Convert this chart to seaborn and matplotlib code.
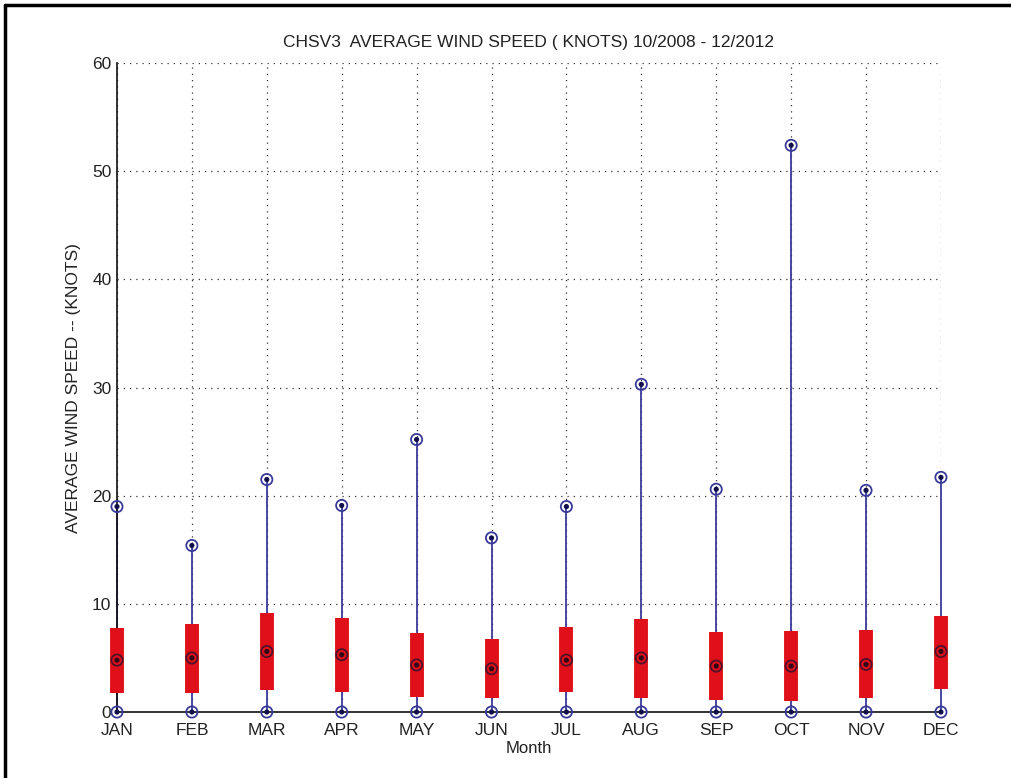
import numpy as np
import pandas as pd
import matplotlib
matplotlib.use('Agg')
import matplotlib.pyplot as plt
from matplotlib.lines import Line2D
import seaborn as sns

# Monthly wind speed summary (knots)
months = ['JAN', 'FEB', 'MAR', 'APR', 'MAY', 'JUN', 'JUL', 'AUG', 'SEP', 'OCT', 'NOV', 'DEC']
wind_min = [0, 0, 0, 0, 0, 0, 0, 0, 0, 0, 0, 0]
wind_q1 = [1.75, 1.8, 2.0, 1.85, 1.4, 1.3, 1.85, 1.3, 1.1, 1.0, 1.3, 2.1]
wind_median = [4.8, 5.0, 5.6, 5.3, 4.35, 4.0, 4.8, 5.0, 4.25, 4.25, 4.4, 5.6]
wind_q3 = [7.8, 8.1, 9.2, 8.7, 7.3, 6.75, 7.85, 8.6, 7.4, 7.5, 7.6, 8.9]
wind_max = [19.0, 15.4, 21.5, 19.1, 25.2, 16.1, 19.0, 30.3, 20.6, 52.4, 20.5, 21.7]

sns.set_style('white')
plt.rcParams['font.family'] = ['Liberation Sans', 'DejaVu Sans']

df = pd.DataFrame({'month': months, 'pos': np.arange(1, 13),
                   'lo': wind_min, 'q1': wind_q1, 'med': wind_median,
                   'q3': wind_q3, 'hi': wind_max})

fig = plt.figure(figsize=(10.11, 7.78), dpi=100)
ax = fig.add_axes([0.1157, 0.0848, 0.815, 0.834])

line_col = '#3a3a9a'
ax.vlines(df['pos'], df['lo'], df['hi'], color=line_col, lw=1.3, zorder=2, clip_on=False)
ax.vlines(df['pos'], df['q1'], df['q3'], color='#e0101a', lw=10, zorder=3, clip_on=False)

# markers: open circle with a dot in the middle
pts = pd.concat([df[['pos']].assign(v=df['lo']),
                 df[['pos']].assign(v=df['hi'])])
sns.scatterplot(data=pts, x='pos', y='v', ax=ax, marker='o', s=65,
                facecolor='none', edgecolor=line_col, linewidth=1.3, zorder=5, clip_on=False)
sns.scatterplot(data=pts, x='pos', y='v', ax=ax, marker='o', s=14,
                color='#10104a', edgecolor='none', zorder=6, clip_on=False)
sns.scatterplot(data=df, x='pos', y='med', ax=ax, marker='o', s=65,
                facecolor='none', edgecolor='#501028', linewidth=1.3, zorder=5, clip_on=False)
sns.scatterplot(data=df, x='pos', y='med', ax=ax, marker='o', s=14,
                color='#300818', edgecolor='none', zorder=6, clip_on=False)

ax.set_xlim(1, 12)
ax.set_ylim(0, 60)
ax.set_xticks(df['pos'])
ax.set_xticklabels(months)
ax.set_yticks(np.arange(0, 61, 10))
ax.tick_params(direction='in', length=7, width=1, labelsize=12.5, colors='#222222')
ax.tick_params(axis='x', pad=8)
ax.tick_params(axis='y', pad=4)
ax.grid(True, linestyle=(0, (1, 4)), color='#333333', lw=0.9)
ax.set_axisbelow(True)
for side in ['top', 'right']:
    ax.spines[side].set_visible(False)
for side in ['left', 'bottom']:
    ax.spines[side].set_color('#111111')
    ax.spines[side].set_linewidth(1.2)

ax.set_title('CHSV3  AVERAGE WIND SPEED ( KNOTS) 10/2008 - 12/2012', fontsize=12.5, color='#222222', pad=12)
ax.set_xlabel('Month', fontsize=12, color='#222222', labelpad=2)
ax.set_ylabel('AVERAGE WIND SPEED -- (KNOTS)', fontsize=12.5, color='#222222', labelpad=8)

# outer frame (left and top edges visible)
fig.add_artist(Line2D([0.005, 0.005], [0, 0.993], transform=fig.transFigure, color='black', lw=2.5))
fig.add_artist(Line2D([0.005, 1.0], [0.993, 0.993], transform=fig.transFigure, color='black', lw=2.5))

fig.savefig('out.png', dpi=100)
